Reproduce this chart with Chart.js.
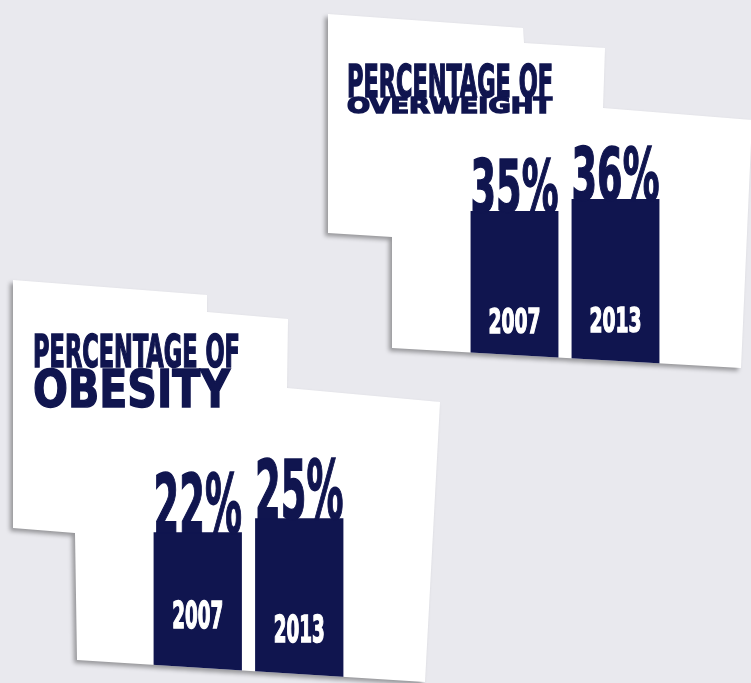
<!DOCTYPE html>
<html>
<head>
<meta charset="utf-8">
<script src="https://cdn.jsdelivr.net/npm/chart.js@4.4.1/dist/chart.umd.min.js"></script>
<style>
    html, body { margin: 0; padding: 0; }
    body { width: 751px; height: 683px; background: #e9e9ee; position: relative; overflow: hidden; }
    .card { position: absolute; filter: drop-shadow(-3px 3px 2px rgba(0, 0, 0, 0.35)); }
    .shape { width: 100%; height: 100%; background: #ffffff; }
    #cardOverweight { left: 328px; top: 14px; width: 424px; height: 380px; }
    #cardOverweight .shape { clip-path: polygon(0px 0px, 195px 14px, 196px 29px, 277px 34px, 275px 94px, 424px 106px, 413px 354px, 64px 334px, 64px 223px, 0px 219px); }
    #cardObesity { left: 13px; top: 280px; width: 427px; height: 410px; }
    #cardObesity .shape { clip-path: polygon(0px 0px, 194px 15px, 194px 32px, 275px 39px, 274px 108px, 427px 122px, 412px 402px, 64px 380px, 62px 253px, 0px 248px); }
</style>
</head>
<body>
<div class="card" id="cardOverweight"><div class="shape"><canvas id="chartOverweight" width="424" height="380"></canvas></div></div>
<div class="card" id="cardObesity"><div class="shape"><canvas id="chartObesity" width="427" height="410"></canvas></div></div>
<script>
const years = ['2007', '2013'];
const overweightValues = [35, 36];
const obesityValues = [22, 25];
const overweightTitle = ['PERCENTAGE OF', 'OVERWEIGHT'];
const obesityTitle = ['PERCENTAGE OF', 'OBESITY'];

const NAVY = '#10154f';
const NARROW = '"Liberation Sans Narrow", "DejaVu Sans Condensed", "Liberation Sans", sans-serif';
const WIDE = '"DejaVu Sans", "Liberation Sans", sans-serif';

// draw text squeezed/stretched so it fills the given width
function fitText(ctx, text, left, baseline, width, font, color) {
    ctx.save();
    ctx.font = font;
    const w = ctx.measureText(text).width;
    ctx.translate(left, baseline);
    ctx.scale(width / w, 1);
    ctx.fillStyle = color;
    ctx.strokeStyle = color;
    ctx.lineWidth = 1.5;
    ctx.textAlign = 'left';
    ctx.textBaseline = 'alphabetic';
    ctx.fillText(text, 0, 0);
    ctx.strokeText(text, 0, 0);
    ctx.restore();
}

const infoLabels = {
    id: 'infoLabels',
    afterDatasetsDraw(chart, args, opts) {
        const ctx = chart.ctx;
        const meta = chart.getDatasetMeta(0);
        const values = chart.data.datasets[0].data;
        meta.data.forEach((bar, i) => {
            const left = bar.x - bar.width / 2;
            fitText(ctx, values[i] + '%', left, bar.y + 1, bar.width, 'bold ' + opts.valueSize + 'px ' + NARROW, NAVY);
            const yw = opts.yearWidth;
            fitText(ctx, chart.data.labels[i], bar.x - yw / 2, bar.base - opts.yearLift[i], yw, 'bold ' + opts.yearSize + 'px ' + NARROW, '#ffffff');
        });
        const t = opts.title;
        fitText(ctx, t.lines[0], t.left, t.base1, t.width1, 'bold ' + t.size1 + 'px ' + NARROW, NAVY);
        fitText(ctx, t.lines[1], t.left, t.base2, t.width2, 'bold ' + t.size2 + 'px ' + WIDE, NAVY);
    }
};

function infoBarChart(id, values, yMin, yMax, padding, labelOpts) {
    return new Chart(document.getElementById(id), {
        type: 'bar',
        data: {
            labels: years,
            datasets: [{
                data: values,
                base: yMin,
                backgroundColor: NAVY,
                borderWidth: 0,
                categoryPercentage: 1,
                barPercentage: 0.87
            }]
        },
        options: {
            responsive: false,
            animation: false,
            layout: { padding: padding },
            scales: {
                x: { display: false },
                y: { display: false, min: yMin, max: yMax }
            },
            plugins: {
                legend: { display: false },
                tooltip: { enabled: false },
                infoLabels: labelOpts
            }
        },
        plugins: [infoLabels]
    });
}

infoBarChart('chartOverweight', overweightValues, 20, 40,
    { left: 136, right: 86, top: 137, bottom: 3 },
    {
        valueSize: 73, yearSize: 34, yearWidth: 52, yearLift: [58, 59],
        title: { lines: overweightTitle, left: 19, base1: 83, width1: 206, size1: 44, base2: 99, width2: 205, size2: 22 }
    });

infoBarChart('chartObesity', obesityValues, -11, 42,
    { left: 134, right: 90, top: 159, bottom: 4 },
    {
        valueSize: 82, yearSize: 38, yearWidth: 51, yearLift: [58, 44],
        title: { lines: obesityTitle, left: 20, base1: 87, width1: 207, size1: 44, base2: 127, width2: 197, size2: 51 }
    });
</script>
</body>
</html>
